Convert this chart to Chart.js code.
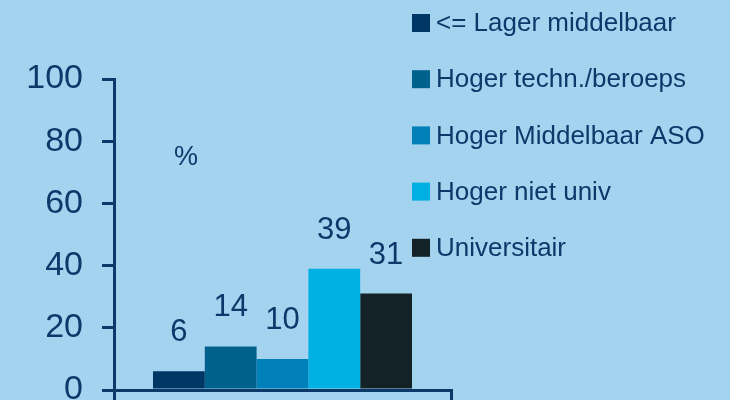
<!DOCTYPE html>
<html>
<head>
<meta charset="utf-8">
<script src="https://cdn.jsdelivr.net/npm/chart.js@4"></script>
<style>
html,body{margin:0;padding:0;background:#ffffff;overflow:hidden;}
#wrap{position:absolute;left:0;top:0;width:730px;height:440px;background:#a3d3ef;}
canvas{display:block;}
</style>
</head>
<body>
<div id="wrap"><canvas id="c" width="730" height="440"></canvas></div>
<script>
const categories = [''];
const seriesLabels = ['<= Lager middelbaar', 'Hoger techn./beroeps', 'Hoger Middelbaar ASO', 'Hoger niet univ', 'Universitair'];
const seriesValues = [6, 14, 10, 39, 31];
const seriesColors = ['#003764', '#00628c', '#0080b8', '#00b0e2', '#122226'];
const yTicks = [0, 20, 40, 60, 80, 100];
const unitLabel = '%';

const NAVY = '#0b3a6a';
const FONT = '"Liberation Sans", Arial, sans-serif';

const datasets = seriesLabels.map((lab, i) => ({
  label: lab,
  data: [seriesValues[i]],
  backgroundColor: seriesColors[i],
  borderWidth: 0,
  categoryPercentage: 0.7685,
  barPercentage: 1.0
}));

const labelPlugin = {
  id: 'extras',
  afterDatasetsDraw(chart) {
    const ctx = chart.ctx;
    ctx.save();
    ctx.fillStyle = NAVY;
    ctx.font = '31px ' + FONT;
    ctx.textAlign = 'center';
    ctx.textBaseline = 'alphabetic';
    chart.data.datasets.forEach((ds, i) => {
      const meta = chart.getDatasetMeta(i);
      meta.data.forEach((bar, j) => {
        ctx.fillText(String(ds.data[j]), bar.x, bar.y - 30);
      });
    });
    ctx.font = '27px ' + FONT;
    ctx.textBaseline = 'middle';
    ctx.fillText(unitLabel, 186, 158);
    ctx.textAlign = 'left';
    ctx.font = '26px ' + FONT;
    chart.data.datasets.forEach((ds, i) => {
      const cy = 23 + i * 56.2;
      ctx.fillStyle = ds.backgroundColor;
      ctx.fillRect(412, cy - 9, 18, 18);
      ctx.fillStyle = NAVY;
      ctx.fillText(ds.label, 436, cy + 1);
    });
    ctx.restore();
  }
};

new Chart(document.getElementById('c'), {
  type: 'bar',
  data: { labels: categories, datasets: datasets },
  options: {
    responsive: false,
    animation: false,
    devicePixelRatio: 1,
    layout: { padding: { left: 0, right: 279, top: 79, bottom: 30 } },
    plugins: { legend: { display: false }, tooltip: { enabled: false } },
    scales: {
      x: {
        afterFit(s) { s.height = 20; },
        grid: { display: true, drawOnChartArea: false, drawTicks: true, tickLength: 14, color: NAVY, lineWidth: 3, offset: true },
        border: { display: true, color: NAVY, width: 3 },
        ticks: { display: false }
      },
      y: {
        min: 0,
        max: 100,
        afterFit(s) { s.width = 114; },
        afterBuildTicks(s) { s.ticks = yTicks.map(v => ({ value: v })); },
        grid: { display: true, drawOnChartArea: false, drawTicks: true, tickLength: 12, color: NAVY, lineWidth: 3 },
        border: { display: true, color: NAVY, width: 3 },
        ticks: { color: NAVY, font: { family: FONT, size: 34 }, padding: 19 }
      }
    }
  },
  plugins: [labelPlugin]
});
</script>
</body>
</html>
